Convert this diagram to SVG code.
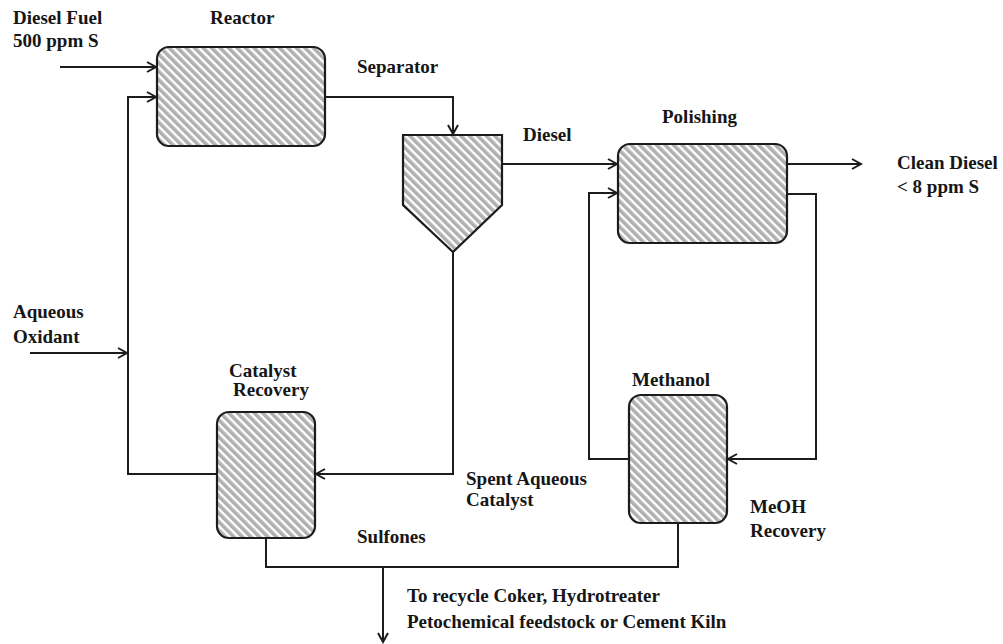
<svg xmlns="http://www.w3.org/2000/svg" width="1003" height="644" viewBox="0 0 1003 644">
<style>
text{font-family:"Liberation Serif","Times New Roman",serif;font-weight:bold;font-size:19px;fill:#161616}
.box{fill:url(#hatch);stroke:#1c1c1c;stroke-width:2.2}
.ln{fill:none;stroke:#1c1c1c;stroke-width:2}
.ar{marker-end:url(#arr)}
</style>
<defs>
<pattern id="hatch" patternUnits="userSpaceOnUse" width="6" height="6" patternTransform="rotate(-45)">
<rect width="6" height="6" fill="#ffffff"/>
<rect width="3.6" height="6" fill="#b0b0b0"/>
</pattern>
<marker id="arr" markerUnits="userSpaceOnUse" markerWidth="14" markerHeight="14" refX="11" refY="6" orient="auto">
<path d="M2,1 L11,6 L2,11" fill="none" stroke="#1c1c1c" stroke-width="2"/>
</marker>
</defs>
<rect width="1003" height="644" fill="#ffffff"/>
<g id="connectors">
<path class="ln ar" d="M60,67 H156"/>
<path class="ln ar" d="M217,474 H128 V97 H156"/>
<path class="ln ar" d="M30,353 H127"/>
<path class="ln ar" d="M325,97 H453 V134"/>
<path class="ln ar" d="M502,164 H617"/>
<path class="ln ar" d="M453,252 V474 H316"/>
<path class="ln ar" d="M787,164 H861"/>
<path class="ln ar" d="M787,194 H816 V459 H728"/>
<path class="ln ar" d="M629,459 H589 V193 H617"/>
<path class="ln" d="M266,538 V567 H678 V523"/>
<path class="ln ar" d="M383,567 V642"/>
</g>
<g id="reactor">
<rect class="box" x="157" y="47" width="168" height="99" rx="12"/>
<text x="210" y="24">Reactor</text>
</g>
<g id="separator">
<polygon class="box" points="403,135 502,135 502,205 453,252 403,205"/>
<text x="357" y="73">Separator</text>
</g>
<g id="polishing">
<rect class="box" x="618" y="144" width="169" height="99" rx="12"/>
<text x="662" y="123">Polishing</text>
</g>
<g id="catalyst-recovery">
<rect class="box" x="217" y="412" width="98" height="126" rx="12"/>
<text x="229" y="377">Catalyst</text>
<text x="233" y="396">Recovery</text>
</g>
<g id="methanol-recovery">
<rect class="box" x="629" y="395" width="98" height="128" rx="12"/>
<text x="632" y="386">Methanol</text>
<text x="750" y="513">MeOH</text>
<text x="750" y="537">Recovery</text>
</g>
<g id="labels">
<text x="13" y="24">Diesel Fuel</text>
<text x="13" y="47">500 ppm S</text>
<text x="523" y="141">Diesel</text>
<text x="897" y="169">Clean Diesel</text>
<text x="897" y="193">&lt; 8 ppm S</text>
<text x="13" y="318">Aqueous</text>
<text x="13" y="343">Oxidant</text>
<text x="466" y="485">Spent Aqueous</text>
<text x="466" y="506">Catalyst</text>
<text x="357" y="543">Sulfones</text>
<text x="407" y="602">To recycle Coker, Hydrotreater</text>
<text x="407" y="628">Petochemical feedstock or Cement Kiln</text>
</g>
</svg>
